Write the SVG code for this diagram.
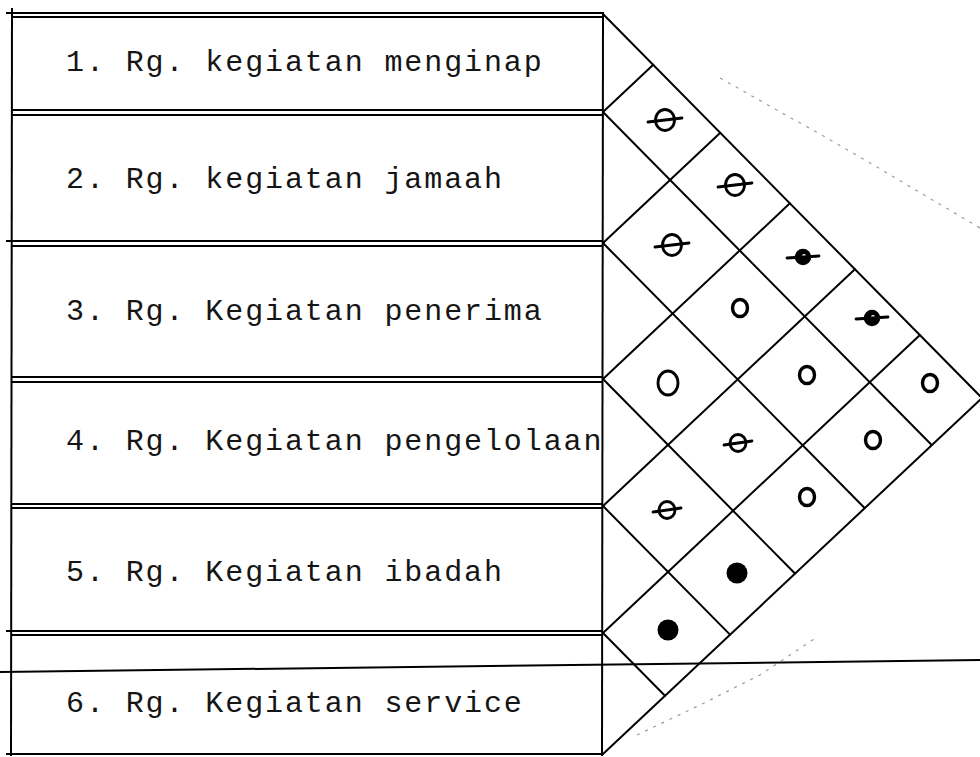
<svg xmlns="http://www.w3.org/2000/svg" width="980" height="757" viewBox="0 0 980 757">
<style>
.bg{fill:#ffffff}
.tl{stroke:#000;stroke-width:2;fill:none}
.gl{stroke:#000;stroke-width:2;fill:none;stroke-linecap:round}
.lbl{font-family:"Liberation Mono","Courier New",monospace;font-size:30px;letter-spacing:1.9px;fill:#151515}
.fa{stroke:#9a9a9a;stroke-width:1.2;fill:none;stroke-dasharray:3 6}
</style>
<defs>
<g id="theta"><ellipse cx="0" cy="0" rx="9.5" ry="10.5" fill="none" stroke="#000" stroke-width="2.8"/><line x1="-17" y1="2" x2="17" y2="-2" stroke="#000" stroke-width="2.8" stroke-linecap="round"/></g>
<g id="thetaS"><ellipse cx="0" cy="0" rx="8" ry="8.5" fill="none" stroke="#000" stroke-width="2.8"/><line x1="-14" y1="2" x2="14" y2="-2" stroke="#000" stroke-width="2.8" stroke-linecap="round"/></g>
<g id="thetaB"><circle cx="0" cy="0" r="6.5" fill="#000" stroke="#000" stroke-width="3.5"/><circle cx="1" cy="-1" r="2" fill="#fff"/><line x1="-16" y1="1" x2="16" y2="-1" stroke="#000" stroke-width="2.8" stroke-linecap="round"/></g>
<g id="ring"><ellipse cx="0" cy="0" rx="7.5" ry="8.5" fill="none" stroke="#000" stroke-width="3.4"/></g>
<g id="ringL"><ellipse cx="0" cy="0" rx="10" ry="12" fill="none" stroke="#000" stroke-width="2.8"/></g>
<g id="dot"><circle cx="0" cy="0" r="10.5" fill="#000"/></g>
</defs>
<rect class="bg" x="0" y="0" width="980" height="757"/>

<g id="table-frame">
<line class="tl" x1="12" y1="8" x2="11" y2="756"/>
<line class="tl" x1="603" y1="12" x2="602" y2="756"/>
<line class="tl" x1="6" y1="754" x2="603" y2="754"/>
</g>

<g id="row1">
<line class="tl" x1="6" y1="13" x2="603" y2="13"/>
<line class="tl" x1="12" y1="17" x2="603" y2="17"/>
<text class="lbl" x="66" y="71">1. Rg. kegiatan menginap</text>
</g>
<g id="row2">
<line class="tl" x1="12" y1="110" x2="603" y2="110"/>
<line class="tl" x1="12" y1="115" x2="603" y2="115"/>
<text class="lbl" x="66" y="188">2. Rg. kegiatan jamaah</text>
</g>
<g id="row3">
<line class="tl" x1="6" y1="241" x2="603" y2="241"/>
<line class="tl" x1="12" y1="246" x2="603" y2="246"/>
<text class="lbl" x="66" y="320">3. Rg. Kegiatan penerima</text>
</g>
<g id="row4">
<line class="tl" x1="12" y1="377" x2="603" y2="377"/>
<line class="tl" x1="12" y1="382" x2="603" y2="382"/>
<text class="lbl" x="66" y="450">4. Rg. Kegiatan pengelolaan</text>
</g>
<g id="row5">
<line class="tl" x1="12" y1="504" x2="603" y2="504"/>
<line class="tl" x1="12" y1="508" x2="603" y2="508"/>
<text class="lbl" x="66" y="581">5. Rg. Kegiatan ibadah</text>
</g>
<g id="row6">
<line class="tl" x1="6" y1="631" x2="603" y2="631"/>
<line class="tl" x1="12" y1="635" x2="603" y2="635"/>
<text class="lbl" x="66" y="712">6. Rg. Kegiatan service</text>
</g>

<g id="connectors">
<line class="gl" x1="603" y1="14" x2="982" y2="398"/>
<line class="gl" x1="603" y1="754" x2="982" y2="398"/>
<line class="gl" x1="603" y1="112" x2="653.2" y2="64.8"/>
<line class="gl" x1="603" y1="243" x2="720.3" y2="132.8"/>
<line class="gl" x1="603" y1="379" x2="789.9" y2="203.3"/>
<line class="gl" x1="603" y1="506" x2="854.9" y2="269.2"/>
<line class="gl" x1="603" y1="633" x2="919.9" y2="335.1"/>
<line class="gl" x1="603" y1="112" x2="931.7" y2="445"/>
<line class="gl" x1="603" y1="243" x2="864.6" y2="508"/>
<line class="gl" x1="603" y1="379" x2="795" y2="573.5"/>
<line class="gl" x1="603" y1="506" x2="730" y2="634.6"/>
<line class="gl" x1="603" y1="633" x2="665" y2="695.8"/>
<line class="tl" x1="0" y1="672" x2="980" y2="660" stroke-width="1.5"/>
</g>

<g id="artifacts">
<path class="fa" d="M720 78 L782 113 L820 134 L865 160 L980 228"/>
<path class="fa" d="M637 735 L700 705 L760 675 L817 637"/>
</g>

<g id="cell-1-2"><use href="#theta" x="665" y="120"/></g>
<g id="cell-1-3"><use href="#theta" x="735" y="185"/></g>
<g id="cell-1-4"><use href="#thetaB" x="803" y="257"/></g>
<g id="cell-1-5"><use href="#thetaB" x="872" y="318"/></g>
<g id="cell-1-6"><use href="#ring" x="930" y="383"/></g>
<g id="cell-2-3"><use href="#theta" x="672" y="245"/></g>
<g id="cell-2-4"><use href="#ring" x="740" y="308"/></g>
<g id="cell-2-5"><use href="#ring" x="807" y="375"/></g>
<g id="cell-2-6"><use href="#ring" x="873" y="440"/></g>
<g id="cell-3-4"><use href="#ringL" x="668" y="383"/></g>
<g id="cell-3-5"><use href="#thetaS" x="738" y="443"/></g>
<g id="cell-3-6"><use href="#ring" x="807" y="497"/></g>
<g id="cell-4-5"><use href="#thetaS" x="667" y="510"/></g>
<g id="cell-4-6"><use href="#dot" x="737" y="573"/></g>
<g id="cell-5-6"><use href="#dot" x="668" y="630"/></g>
</svg>
